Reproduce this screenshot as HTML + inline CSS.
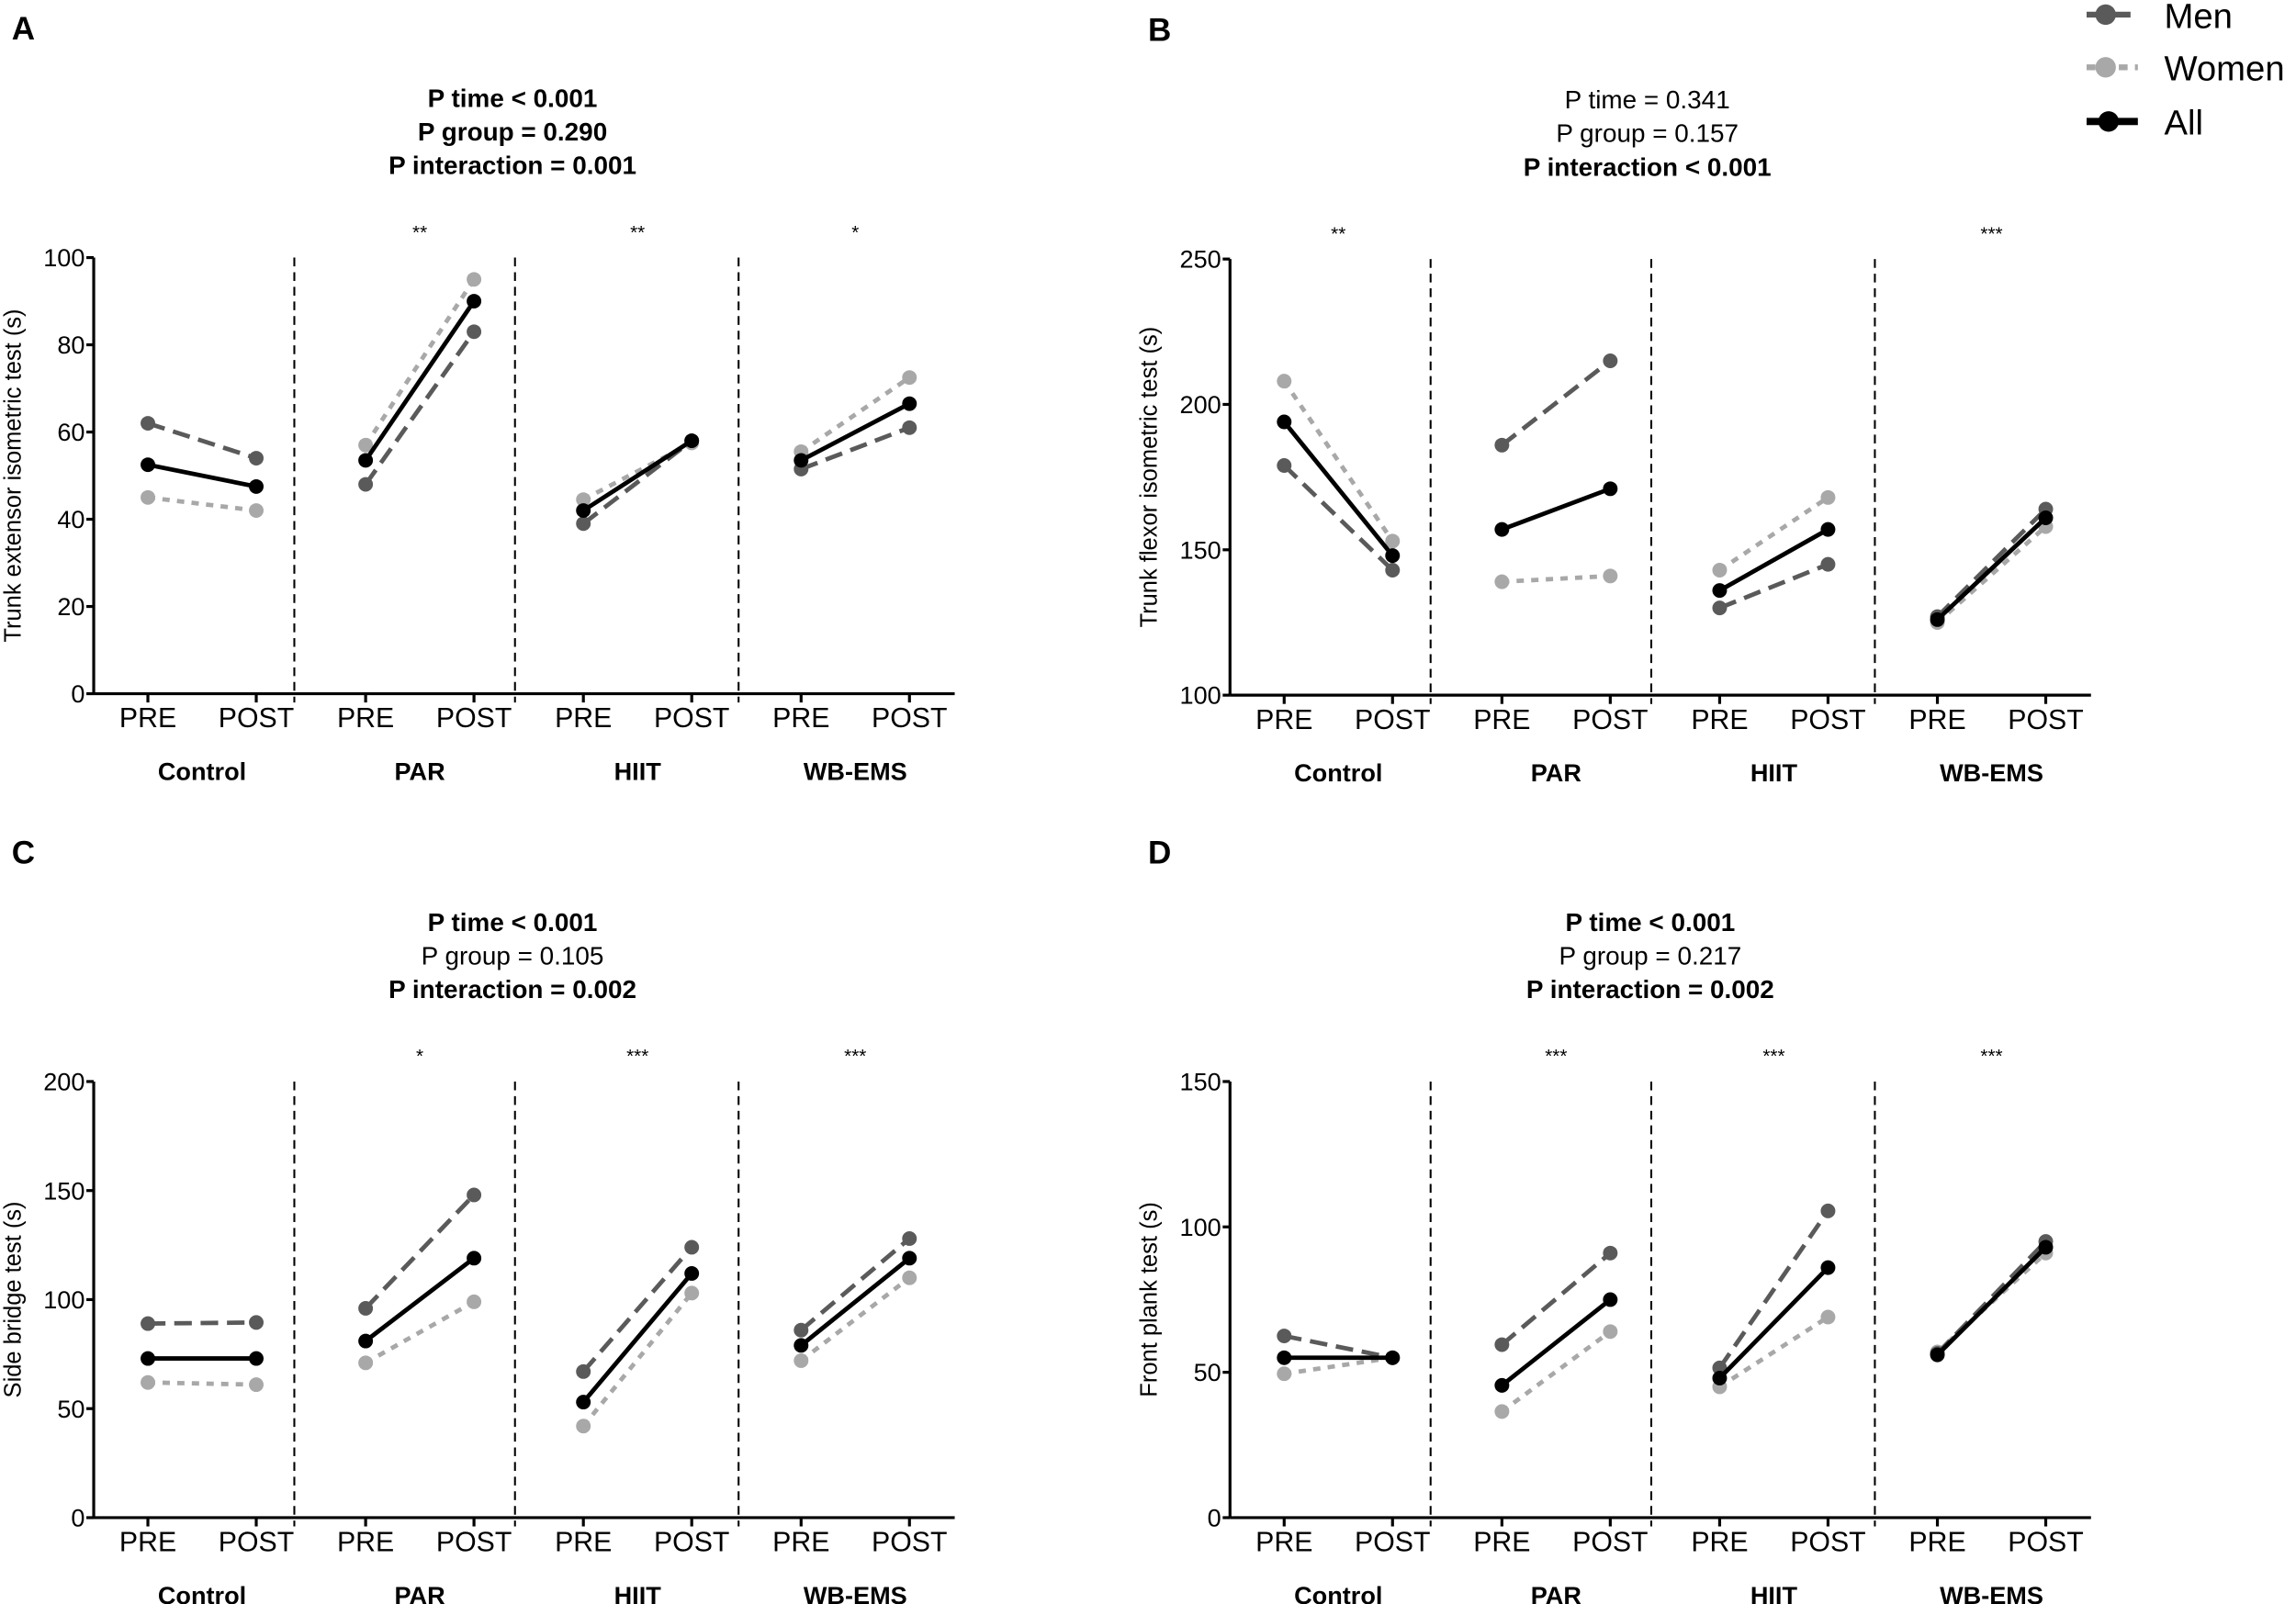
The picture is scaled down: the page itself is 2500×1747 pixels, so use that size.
<!DOCTYPE html>
<html><head><meta charset="utf-8"><style>
html,body{margin:0;padding:0;background:#fff}
svg{display:block}
text{font-family:"Liberation Sans",Arial,sans-serif}
</style></head><body>
<svg id="fig" xmlns="http://www.w3.org/2000/svg" width="2500" height="1747" viewBox="0 0 1568 1096" preserveAspectRatio="none">
<g>
<g><line x1="1425" y1="10" x2="1460" y2="10" stroke="#5a5a5a" stroke-width="4" stroke-dasharray="12,6"/><circle cx="1438" cy="10" r="7" fill="#5a5a5a"/><text x="1478" y="19" font-size="24">Men</text></g>
<g><line x1="1425" y1="46" x2="1460" y2="46" stroke="#a8a8a8" stroke-width="4" stroke-dasharray="6,5"/><circle cx="1438" cy="46" r="7" fill="#a8a8a8"/><text x="1478" y="55" font-size="24">Women</text></g>
<g><line x1="1425" y1="83" x2="1460" y2="83" stroke="#000" stroke-width="5"/><circle cx="1440" cy="83" r="7" fill="#000"/><text x="1478" y="92" font-size="24">All</text></g>
</g>
</svg>
<script>
const groups = ["Control","PAR","HIIT","WB-EMS"];
const timeLabels = ["PRE","POST"];
// Panel A
const aMen = [62,54, 48,83, 39,58, 51.5,61];
const aWomen = [45,42, 57,95, 44.5,57.5, 55.5,72.5];
const aAll = [52.5,47.5, 53.5,90, 42,58, 53.5,66.5];
const aTicks = [0,20,40,60,80,100];
const aStars = ["","**","**","*"];
// Panel B
const bMen = [179,143, 186,215, 130,145, 127,164];
const bWomen = [208,153, 139,141, 143,168, 125,158];
const bAll = [194,148, 157,171, 136,157, 126,161];
const bTicks = [100,150,200,250];
const bStars = ["**","","","***"];
// Panel C
const cMen = [89,89.5, 96,148, 67,124, 86,128];
const cWomen = [62,61, 71,99, 42,103, 72,110];
const cAll = [73,73, 81,119, 53,112, 79,119];
const cTicks = [0,50,100,150,200];
const cStars = ["","*","***","***"];
// Panel D
const dMen = [62.5,55, 59.5,91, 51.5,105.5, 56.5,95];
const dWomen = [49.5,55, 36.5,64, 45,69, 57,91];
const dAll = [55,55, 45.5,75, 48,86, 56,93];
const dTicks = [0,50,100,150];
const dStars = ["","***","***","***"];

const NS="http://www.w3.org/2000/svg";
const svg=document.getElementById('fig');
function mk(tag,attrs,parent){const e=document.createElementNS(NS,tag);for(const k in attrs)e.setAttribute(k,attrs[k]);(parent||svg).appendChild(e);return e;}
function txt(str,attrs,parent){const e=mk('text',attrs,parent);e.textContent=str;return e;}

const divOff=[26,28,32];
const panels=[
 {id:'a',letter:'A',ox:0,oy:0,ymin:0,ymax:100,ticks:aTicks,men:aMen,women:aWomen,all:aAll,stars:aStars,ylabel:'Trunk extensor isometric test (s)',titles:[['P time < 0.001',1],['P group = 0.290',1],['P interaction = 0.001',1]],tx:350},
 {id:'b',letter:'B',ox:776,oy:1,ymin:100,ymax:250,ticks:bTicks,men:bMen,women:bWomen,all:bAll,stars:bStars,ylabel:'Trunk flexor isometric test (s)',titles:[['P time = 0.341',0],['P group = 0.157',0],['P interaction < 0.001',1]],tx:1125},
 {id:'c',letter:'C',ox:0,oy:563,ymin:0,ymax:200,ticks:cTicks,men:cMen,women:cWomen,all:cAll,stars:cStars,ylabel:'Side bridge test (s)',titles:[['P time < 0.001',1],['P group = 0.105',0],['P interaction = 0.002',1]],tx:350},
 {id:'d',letter:'D',ox:776,oy:563,ymin:0,ymax:150,ticks:dTicks,men:dMen,women:dWomen,all:dAll,stars:dStars,ylabel:'Front plank test (s)',titles:[['P time < 0.001',1],['P group = 0.217',0],['P interaction = 0.002',1]],tx:1127}
];
const styles={men:{c:'#5a5a5a',d:'12,6',w:3},women:{c:'#a8a8a8',d:'5,5',w:3},all:{c:'#000',d:'',w:3}};
panels.forEach(p=>{
 const g=mk('g',{});
 
 
 const axX=64+p.ox, top=176+p.oy, bot=474+p.oy, right=652+p.ox;
 const y=v=>bot-(v-p.ymin)/(p.ymax-p.ymin)*(bot-top);
 const x=i=>101+p.ox+Math.floor(i/2)*148.7+(i%2)*74;
 const lt=txt(p.letter,{x:8+p.ox,y:27+p.oy,'font-size':22,'font-weight':'bold'},g);
 
 
 p.titles.forEach((t,i)=>{const e=txt(t[0],{x:p.tx,y:73+p.oy+i*23,'font-size':17.5,'text-anchor':'middle','font-weight':t[1]?'bold':'normal'},g);
  
  });
 const ya=mk('line',{x1:axX,y1:top,x2:axX,y2:bot,stroke:'#000','stroke-width':2},g);
 
 
 const xa=mk('line',{x1:axX,y1:bot,x2:right,y2:bot,stroke:'#000','stroke-width':2},g);
 
 
 p.ticks.forEach(t=>{mk('line',{x1:axX-5,y1:y(t),x2:axX,y2:y(t),stroke:'#000','stroke-width':2},g);
  const e=txt(String(t),{x:axX-6,y:y(t)+6,'font-size':17,'text-anchor':'end'},g);
  
  });
 const yl=txt(p.ylabel,{x:0,y:0,'font-size':16,'text-anchor':'middle',transform:`translate(${14+p.ox},${(top+bot)/2}) rotate(-90)`},g);
 
 
 for(let i=0;i<8;i++){mk('line',{x1:x(i),y1:bot,x2:x(i),y2:bot+6,stroke:'#000','stroke-width':2},g);
  const e=txt(timeLabels[i%2],{x:x(i),y:bot+23,'font-size':19,'text-anchor':'middle'},g);
  
  }
 groups.forEach((gn,k)=>{
  const cx=(x(2*k)+x(2*k+1))/2;
  const e=txt(gn,{x:cx,y:bot+59,'font-size':17,'font-weight':'bold','text-anchor':'middle'},g);
  
  
  if(p.stars[k]){const s=txt(p.stars[k],{x:cx,y:top-13,'font-size':13,'text-anchor':'middle'},g);
   
   }
  if(k<3){const dx=x(2*k+1)+divOff[k];
   const dl=mk('line',{x1:dx,y1:top,x2:dx,y2:bot+6,stroke:'#000','stroke-width':1.3,'stroke-dasharray':'6,4'},g);
   
   }
 });
 ['women','men','all'].forEach(s=>{
  const vals=p[s], st=styles[s];
  for(let k=0;k<4;k++){
   const l=mk('line',{x1:x(2*k),y1:y(vals[2*k]),x2:x(2*k+1),y2:y(vals[2*k+1]),stroke:st.c,'stroke-width':st.w},g);
   if(st.d)l.setAttribute('stroke-dasharray',st.d);
   
   
   for(let j=0;j<2;j++){
    const c=mk('circle',{cx:x(2*k+j),cy:y(vals[2*k+j]),r:5,fill:st.c},g);
    
    
   }
  }
 });
});
</script>
</body></html>
